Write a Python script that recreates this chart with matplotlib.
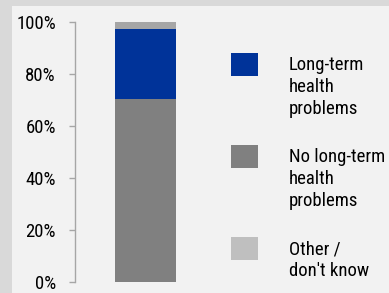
import matplotlib.pyplot as plt
from matplotlib.patches import Rectangle

# data
categories = ['']
series_names = ['No long-term\nhealth\nproblems', 'Long-term\nhealth\nproblems', 'Other /\ndon\'t know']
series_values = [70.5, 27.0, 2.5]
bar_colors = ['#808080', '#003399', '#a6a6a6']
legend_colors = ['#808080', '#003399', '#bfbfbf']
legend_order = [1, 0, 2]
yticks = [0, 20, 40, 60, 80, 100]
ytick_labels = ['0%', '20%', '40%', '60%', '80%', '100%']

# condensed face to match the squeezed Arial look of the original
plt.rcParams['font.family'] = ['Roboto Condensed', 'Liberation Sans', 'DejaVu Sans']

W, H = 389, 293
fig = plt.figure(figsize=(W / 100, H / 100), dpi=100)
fig.patch.set_facecolor('#d9d9d9')
fig.add_artist(Rectangle((12 / W, 0), 1 - 12 / W, (H - 6) / H,
                         transform=fig.transFigure, facecolor='#f2f2f2',
                         edgecolor='none', zorder=0))

ax = fig.add_axes([75 / W, 11 / H, 141 / W, 260 / H])
ax.set_facecolor('none')

bottom = 0
for val, col in zip(series_values, bar_colors):
    ax.bar(range(len(categories)), [val], bottom=bottom, width=0.865,
           color=col, edgecolor='none')
    bottom += val

ax.set_xlim(-1, 1)
ax.set_ylim(0, 100)
ax.set_xticks([])
ax.set_yticks(yticks)
ax.set_yticklabels(ytick_labels, fontsize=13.5, color='#000000')
ax.tick_params(axis='y', length=4.3, width=1, color='#a6a6a6', pad=9.4)
for s in ['top', 'right', 'bottom']:
    ax.spines[s].set_visible(False)
ax.spines['left'].set_color('#a6a6a6')
ax.spines['left'].set_linewidth(1)

# legend drawn by hand so the patch lines up with the first text line
for k, i in enumerate(legend_order):
    top = 53 + 92 * k
    fig.add_artist(Rectangle((231 / W, 1 - (top + 23) / H), 27 / W, 23 / H,
                             transform=fig.transFigure,
                             facecolor=legend_colors[i], edgecolor='none'))
    fig.text(289 / W, 1 - (top + 3) / H, series_names[i], fontsize=13.5,
             va='top', ha='left', linespacing=1.3, color='#000000')

fig.savefig('out.png', dpi=100, facecolor=fig.get_facecolor())
